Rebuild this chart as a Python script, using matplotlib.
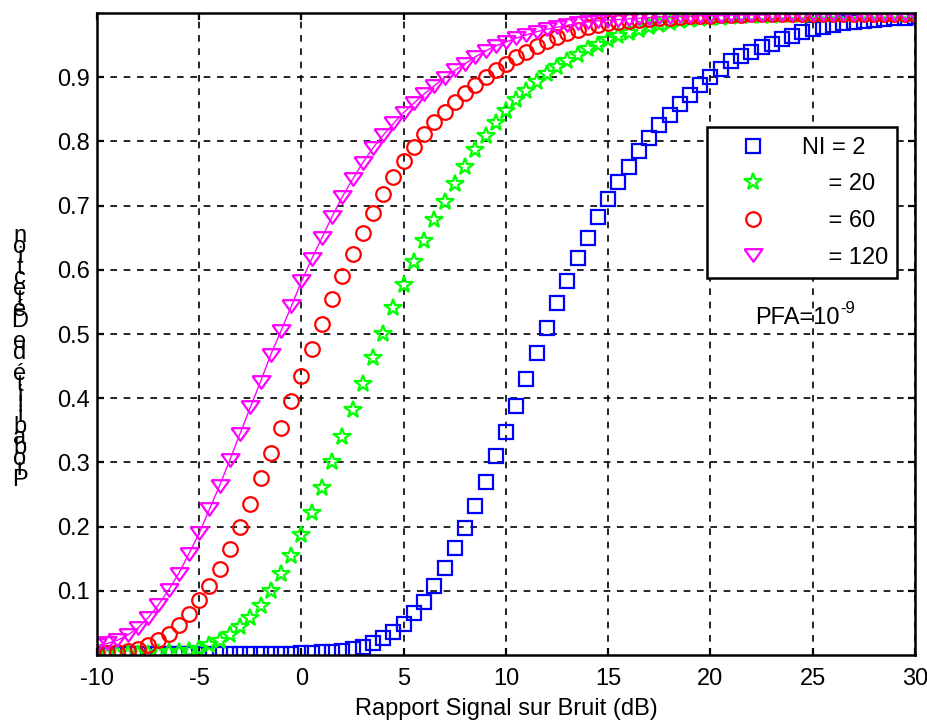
import matplotlib
matplotlib.use("Agg")
import matplotlib.pyplot as plt
from matplotlib.lines import Line2D
import numpy as np

plt.rcParams['font.family'] = ['Liberation Sans', 'DejaVu Sans']
plt.rcParams['axes.unicode_minus'] = False

# SNR axis (dB), one marker every 0.5 dB
snr = np.arange(-10, 30.5, 0.5)

# detection probability, NI = 2
pd_ni2 = [0.001, 0.001, 0.001, 0.001, 0.001, 0.001, 0.001, 0.001, 0.001, 0.001,
          0.001, 0.001, 0.001, 0.001, 0.002, 0.002, 0.002, 0.002, 0.002, 0.002,
          0.003, 0.003, 0.004, 0.005, 0.007, 0.010, 0.013, 0.019, 0.027, 0.036,
          0.049, 0.065, 0.083, 0.108, 0.136, 0.167, 0.198, 0.232, 0.270, 0.310,
          0.348, 0.388, 0.430, 0.471, 0.510, 0.548, 0.582, 0.619, 0.650, 0.682,
          0.711, 0.737, 0.761, 0.785, 0.806, 0.825, 0.842, 0.858, 0.872, 0.888,
          0.900, 0.913, 0.925, 0.933, 0.940, 0.947, 0.952, 0.959, 0.964, 0.970,
          0.975, 0.978, 0.981, 0.984, 0.986, 0.988, 0.990, 0.991, 0.992, 0.993,
          0.994]

# NI = 20
pd_ni20 = [0.001, 0.001, 0.001, 0.002, 0.002, 0.002, 0.003, 0.004, 0.005, 0.007,
           0.010, 0.015, 0.022, 0.031, 0.043, 0.058, 0.077, 0.100, 0.127, 0.155,
           0.187, 0.222, 0.260, 0.300, 0.340, 0.381, 0.422, 0.462, 0.500, 0.540,
           0.577, 0.612, 0.645, 0.677, 0.706, 0.733, 0.760, 0.786, 0.808, 0.828,
           0.848, 0.865, 0.879, 0.892, 0.905, 0.916, 0.926, 0.935, 0.944, 0.951,
           0.958, 0.964, 0.969, 0.974, 0.978, 0.981, 0.984, 0.987, 0.989, 0.991,
           0.992, 0.993, 0.994, 0.995, 0.995, 0.996, 0.996, 0.997, 0.997, 0.997,
           0.998, 0.998, 0.998, 0.998, 0.999, 0.999, 0.999, 0.999, 0.999, 0.999,
           0.999]

# NI = 60
pd_ni60 = [0.002, 0.003, 0.004, 0.006, 0.009, 0.015, 0.023, 0.033, 0.046, 0.064,
           0.085, 0.108, 0.134, 0.165, 0.199, 0.235, 0.275, 0.314, 0.354, 0.395,
           0.435, 0.477, 0.516, 0.554, 0.591, 0.625, 0.658, 0.689, 0.718, 0.745,
           0.769, 0.791, 0.812, 0.830, 0.846, 0.862, 0.876, 0.888, 0.900, 0.911,
           0.921, 0.931, 0.940, 0.948, 0.956, 0.963, 0.969, 0.974, 0.978, 0.981,
           0.984, 0.986, 0.988, 0.990, 0.991, 0.992, 0.993, 0.994, 0.995, 0.996,
           0.996, 0.997, 0.997, 0.997, 0.998, 0.998, 0.998, 0.998, 0.998, 0.999,
           0.999, 0.999, 0.999, 0.999, 0.999, 0.999, 0.999, 0.999, 0.999, 0.999,
           0.999]

# NI = 120
pd_ni120 = [0.015, 0.018, 0.023, 0.031, 0.042, 0.058, 0.078, 0.101, 0.127, 0.158,
            0.190, 0.227, 0.264, 0.304, 0.345, 0.386, 0.426, 0.468, 0.505, 0.543,
            0.582, 0.617, 0.650, 0.683, 0.714, 0.741, 0.767, 0.790, 0.810, 0.828,
            0.845, 0.860, 0.874, 0.887, 0.899, 0.911, 0.921, 0.932, 0.941, 0.949,
            0.955, 0.961, 0.966, 0.971, 0.975, 0.978, 0.981, 0.984, 0.986, 0.988,
            0.989, 0.990, 0.991, 0.992, 0.993, 0.994, 0.994, 0.995, 0.995, 0.996,
            0.996, 0.996, 0.997, 0.997, 0.997, 0.997, 0.998, 0.998, 0.998, 0.998,
            0.998, 0.998, 0.998, 0.998, 0.998, 0.998, 0.998, 0.998, 0.998, 0.998,
            0.998]

labels = ["NI = 2", "    = 20", "    = 60", "    = 120"]
FS = 17

# flat downward triangle, like MATLAB's 'v'
tri = [(-1, 0.7), (1, 0.7), (0, -0.7), (-1, 0.7)]

styles = [('s', '#0000ff', 10.5), ('*', '#00ff00', 13),
          ('o', '#ff0000', 10.5), (tri, '#ff00ff', 13)]

fig = plt.figure(figsize=(9.27, 7.27), dpi=100)
ax = fig.add_axes([0.1046, 0.099, 0.8824, 0.883])

mew = 1.6
series = [pd_ni2, pd_ni20, pd_ni60, pd_ni120]
for (m, c, ms), y in zip(styles, series):
    ls = '-' if c == '#ff00ff' else 'none'
    ax.plot(snr, y, marker=m, color=c, mfc='none', mew=mew, ms=ms, lw=1.0, linestyle=ls)

ax.set_xlim(-10, 30)
ax.set_ylim(0, 1)
ax.set_xticks(np.arange(-10, 31, 5))
yt = [0.1, 0.2, 0.3, 0.4, 0.5, 0.6, 0.7, 0.8, 0.9]
ax.set_yticks(yt)
ax.set_yticklabels(["%.1f" % v for v in yt])

ax.grid(True, color='black', linestyle=(0, (4, 4)), linewidth=1.2)
ax.set_axisbelow(True)
ax.tick_params(direction='in', top=True, right=True, length=5, width=1.6,
               labelsize=FS)
ax.tick_params(axis='x', pad=9)
ax.tick_params(axis='y', pad=5)
for s in ax.spines.values():
    s.set_linewidth(1.8)

ax.set_xlabel("Rapport Signal sur Bruit (dB)", fontsize=FS, labelpad=6)

# legend with markers only
leg_handles = [Line2D([], [], marker=m, color=c, mfc='none', mew=mew, ms=ms, linestyle='none')
               for m, c, ms in styles]
leg = ax.legend(leg_handles, labels, loc='upper left', bbox_to_anchor=(0.746, 0.822),
                fontsize=FS, frameon=True, fancybox=False, edgecolor='black',
                framealpha=1, handlelength=3.1, handletextpad=0.5, borderpad=0.4,
                labelspacing=0.62, numpoints=1, borderaxespad=0)
leg.get_frame().set_linewidth(1.8)

t = ax.text(22.2, 0.525, "PFA=10", fontsize=FS, va='center', ha='left')
ax.annotate("-9", xy=(1.0, 0.95), xycoords=t, fontsize=12, va='center', ha='left')

# y label: characters stacked upright, as rendered in the original
ylab = "Probabilité de Détection"
y_bottom = 1 - 480 / 727
y_top = 1 - 236 / 727
step = (y_top - y_bottom) / (len(ylab) - 1)
for i, ch in enumerate(ylab):
    fig.text(20 / 927, y_bottom + i * step, ch, fontsize=FS, ha='center', va='center')

fig.savefig("out.png", dpi=100)
